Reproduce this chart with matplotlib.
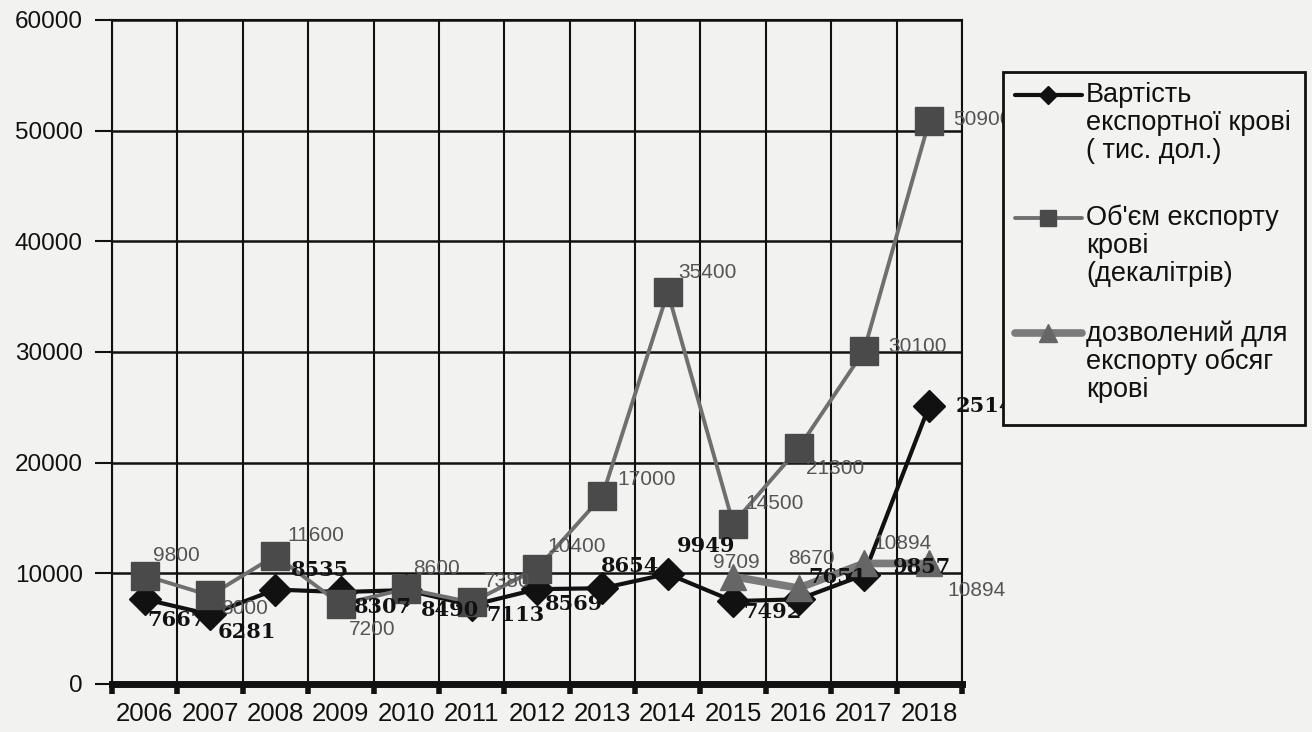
import numpy as np
import matplotlib.pyplot as plt
from matplotlib.lines import Line2D
from matplotlib.patches import Rectangle

# Роки та показники експорту крові
roky = ['2006', '2007', '2008', '2009', '2010', '2011', '2012',
        '2013', '2014', '2015', '2016', '2017', '2018']
vartist = [7667, 6281, 8535, 8307, 8490, 7113, 8569, 8654, 9949, 7492, 7651, 9857, 25148]
obsyag = [9800, 8000, 11600, 7200, 8600, 7380, 10400, 17000, 35400, 14500, 21300, 30100, 50900]
dozvoleno = [np.nan, np.nan, np.nan, np.nan, np.nan, np.nan, np.nan, np.nan, np.nan,
             9709, 8670, 10894, 10894]
y_ticks = [0, 10000, 20000, 30000, 40000, 50000, 60000]

# зсуви підписів (пікселі) для кожної точки
zsuv_vartist = [(3, -21), (8, -18), (15, 20), (13, -15), (15, -20), (15, -10), (8, -15),
                (-2, 22), (9, 28), (10, -11), (10, 22), (29, 8), (26, 0)]
zsuv_obsyag = [(8, 20), (11, -13), (12, 20), (8, -25), (7, 20), (12, 21), (10, 22),
               (15, 16), (10, 20), (12, 20), (7, -20), (24, 4), (24, 1)]
zsuv_dozv = [None] * 9 + [(-20, 14), (-10, 30), (9, 20), (18, -27)]

W, H = 1312, 732
fon = '#f2f2f1'
sans = ['Liberation Sans', 'DejaVu Sans']

def px(x, y):
    '''Піксельні координати -> координати фігури'''
    return x / W, 1 - y / H

fig = plt.figure(figsize=(W / 100, H / 100), dpi=100, facecolor=fon)
ax = fig.add_axes([112 / W, 1 - 684 / H, 850 / W, 664 / H])
ax.set_facecolor('none')

x = np.arange(len(roky))
ax.plot(x, vartist, '-D', color='#111111', lw=3, ms=16, zorder=3)
ax.plot(x, obsyag, '-s', color='#6f6f6f', mfc='#4a4a4a', mec='#4a4a4a', lw=2.8, ms=20, zorder=4)
ax.plot(x, dozvoleno, '-^', color='#7a7a7a', mfc='#666666', mec='#666666', lw=5.5, ms=19, zorder=5)

# підписи значень
for i in range(len(roky)):
    ax.annotate(str(vartist[i]), (x[i], vartist[i]), xytext=zsuv_vartist[i],
                textcoords='offset pixels', ha='left', va='center', fontsize=15,
                family='DejaVu Serif', fontweight='bold', color='#111111', zorder=7)
    ax.annotate(str(obsyag[i]), (x[i], obsyag[i]), xytext=zsuv_obsyag[i],
                textcoords='offset pixels', ha='left', va='center', fontsize=15,
                family=sans, color='#555555', zorder=6)
    if zsuv_dozv[i] is not None:
        ax.annotate(str(dozvoleno[i]), (x[i], dozvoleno[i]), xytext=zsuv_dozv[i],
                    textcoords='offset pixels', ha='left', va='center', fontsize=15,
                    family=sans, color='#555555', zorder=6)

ax.set_xlim(-0.5, len(roky) - 0.5)
ax.set_ylim(0, 60000)

# вертикальні лінії між роками, підписи років посередині
ax.set_xticks(np.arange(-0.5, len(roky), 1))
ax.set_xticklabels([])
ax.set_xticks(x, minor=True)
ax.set_xticklabels(roky, minor=True, fontsize=18.5, family=sans, color='#111111')
ax.tick_params(axis='x', which='major', direction='out', length=7, width=4, color='#111111')
ax.tick_params(axis='x', which='minor', length=0, pad=13)
ax.grid(axis='x', which='major', color='#111111', lw=1.5, zorder=1)

ax.set_yticks(y_ticks)
ax.set_yticklabels([str(v) for v in y_ticks], fontsize=17.5, family=sans, color='#111111')
ax.tick_params(axis='y', direction='out', length=12, width=1.5, pad=9, color='#111111')
ax.grid(axis='y', color='#111111', lw=1.8, zorder=1)
ax.set_axisbelow(True)

for s in ['left', 'right', 'top']:
    ax.spines[s].set_linewidth(1.5)
    ax.spines[s].set_color('#111111')
ax.spines['bottom'].set_linewidth(5)
ax.spines['bottom'].set_color('#111111')

# легенда вручну: маркер навпроти першого рядка тексту
x0, y0 = px(1003, 72)
x1, y1 = px(1305, 425)
fig.add_artist(Rectangle((x0, y1), x1 - x0, y0 - y1, transform=fig.transFigure,
                         facecolor=fon, edgecolor='#111111', lw=2, zorder=10))

elementy = [
    ('Вартість\nекспортної крові\n( тис. дол.)', 95, dict(color='#111111', lw=3),
     dict(marker='D', color='#111111', ms=9)),
    ("Об'єм експорту\nкрові\n(декалітрів)", 218, dict(color='#6f6f6f', lw=2.8),
     dict(marker='s', color='#4a4a4a', ms=11)),
    ('дозволений для\nекспорту обсяг\nкрові', 333, dict(color='#7a7a7a', lw=5.5),
     dict(marker='^', color='#666666', ms=13)),
]
for tekst, yl, lin, mark in elementy:
    (xa, ya), (xb, _) = px(1015, yl), px(1082, yl)
    fig.add_artist(Line2D([xa, xb], [ya, ya], transform=fig.transFigure,
                          solid_capstyle='round', zorder=11, **lin))
    xm, _ = px(1048, yl)
    fig.add_artist(Line2D([xm], [ya], transform=fig.transFigure, ls='none', zorder=12, **mark))
    xt, yt = px(1086, yl - 13)
    fig.text(xt, yt, tekst, ha='left', va='top', fontsize=19.5, family=sans,
             color='#111111', linespacing=1.1, zorder=12)

fig.savefig('out.png', dpi=100, facecolor=fon)
